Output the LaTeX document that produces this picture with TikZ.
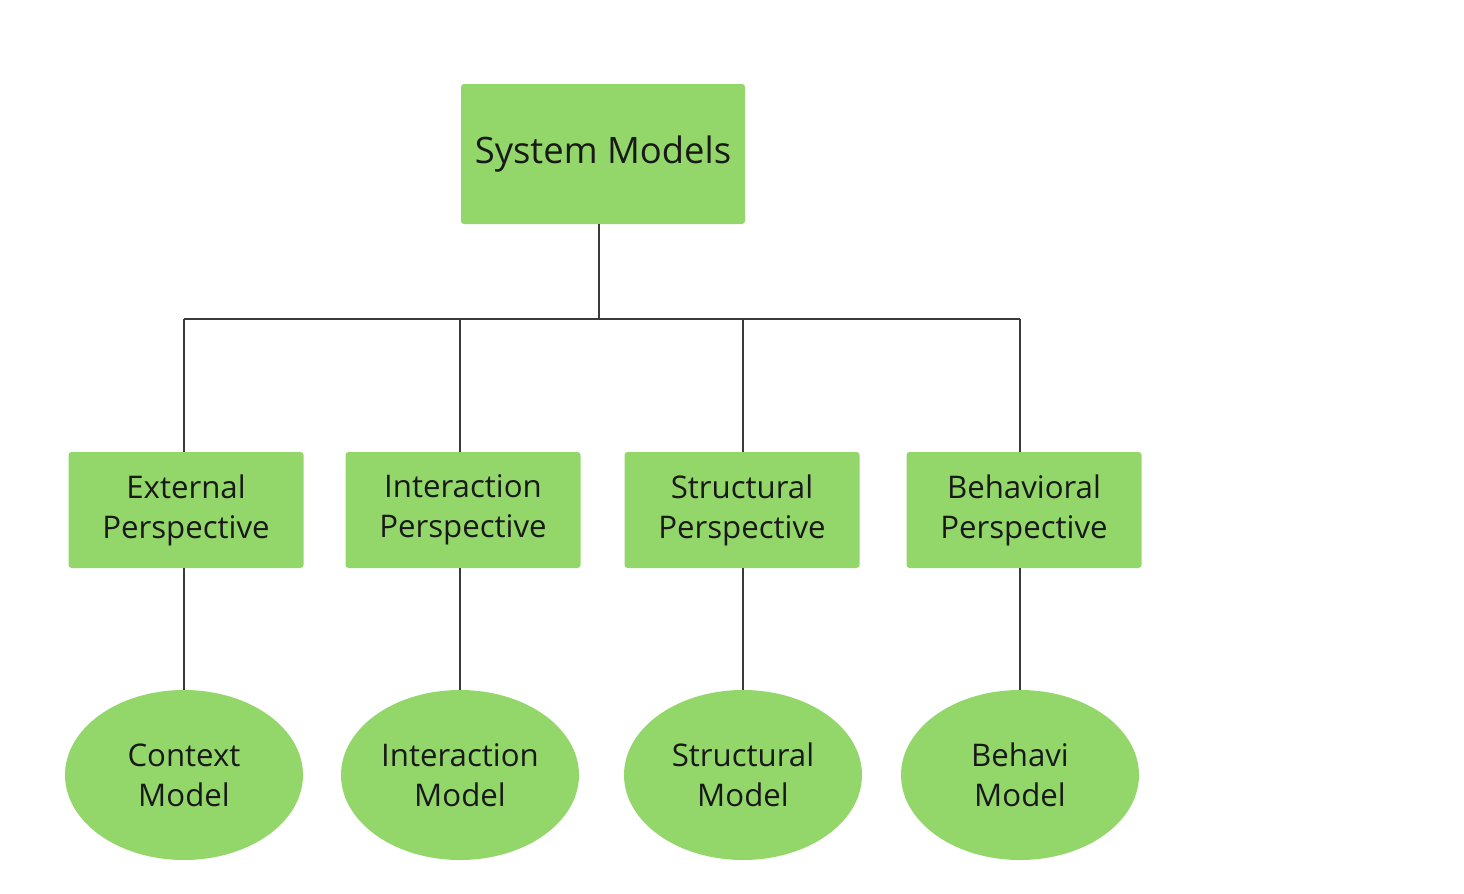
\documentclass[tikz,border=0pt]{standalone}
\usepackage{fontspec}
\setmainfont{Open Sans}
\usepackage{tikz}
\usetikzlibrary{shapes.geometric}

\definecolor{leafgreen}{HTML}{93D76B}
\definecolor{wiregray}{HTML}{3A3A3A}

\begin{document}
\begin{tikzpicture}[
  x=0.5pt,
  y=0.5pt,
  rootbox/.style={fill=leafgreen, rounded corners=1.5pt, minimum width=142pt, minimum height=70pt,
    inner sep=0pt, font=\fontsize{18.2}{20}\selectfont, text=black!90},
  perspbox/.style={fill=leafgreen, rounded corners=1.5pt, minimum width=117.5pt, minimum height=58pt,
    inner sep=0pt, align=center, font=\fontsize{15.6}{20}\selectfont, text=black!90},
  modelnode/.style={ellipse, fill=leafgreen, minimum width=119pt, minimum height=85pt,
    inner sep=0pt, align=center, font=\fontsize{15.6}{20}\selectfont, text=black!90},
  wire/.style={draw=wiregray, line width=1pt}
]
  \useasboundingbox (0,0) rectangle (1464,-894);

  \node[rootbox] (root) at (603,-154) {System Models};

  \foreach \i/\x/\px/\top/\bot in {1/184/186/External/Context,
                                 2/460/463/Interaction/Interaction,
                                 3/743/742/Structural/Structural,
                                 4/1020/1024/Behavioral/Behavi} {
    \node[perspbox] (p\i) at (\px,-510) {\top\\Perspective};
    \node[modelnode] (m\i) at (\x,-775) {\bot\\Model};
    \draw[wire] (m\i.north) -- (m\i.north |- p\i.south);
    \draw[wire] (m\i.north |- p\i.north) -- ++(0,133) coordinate (t\i);
  }

  \draw[wire] (root.south -| 599,0) -- (599,-319);
  \draw[wire] (t1) -- (t4);
\end{tikzpicture}
\end{document}
